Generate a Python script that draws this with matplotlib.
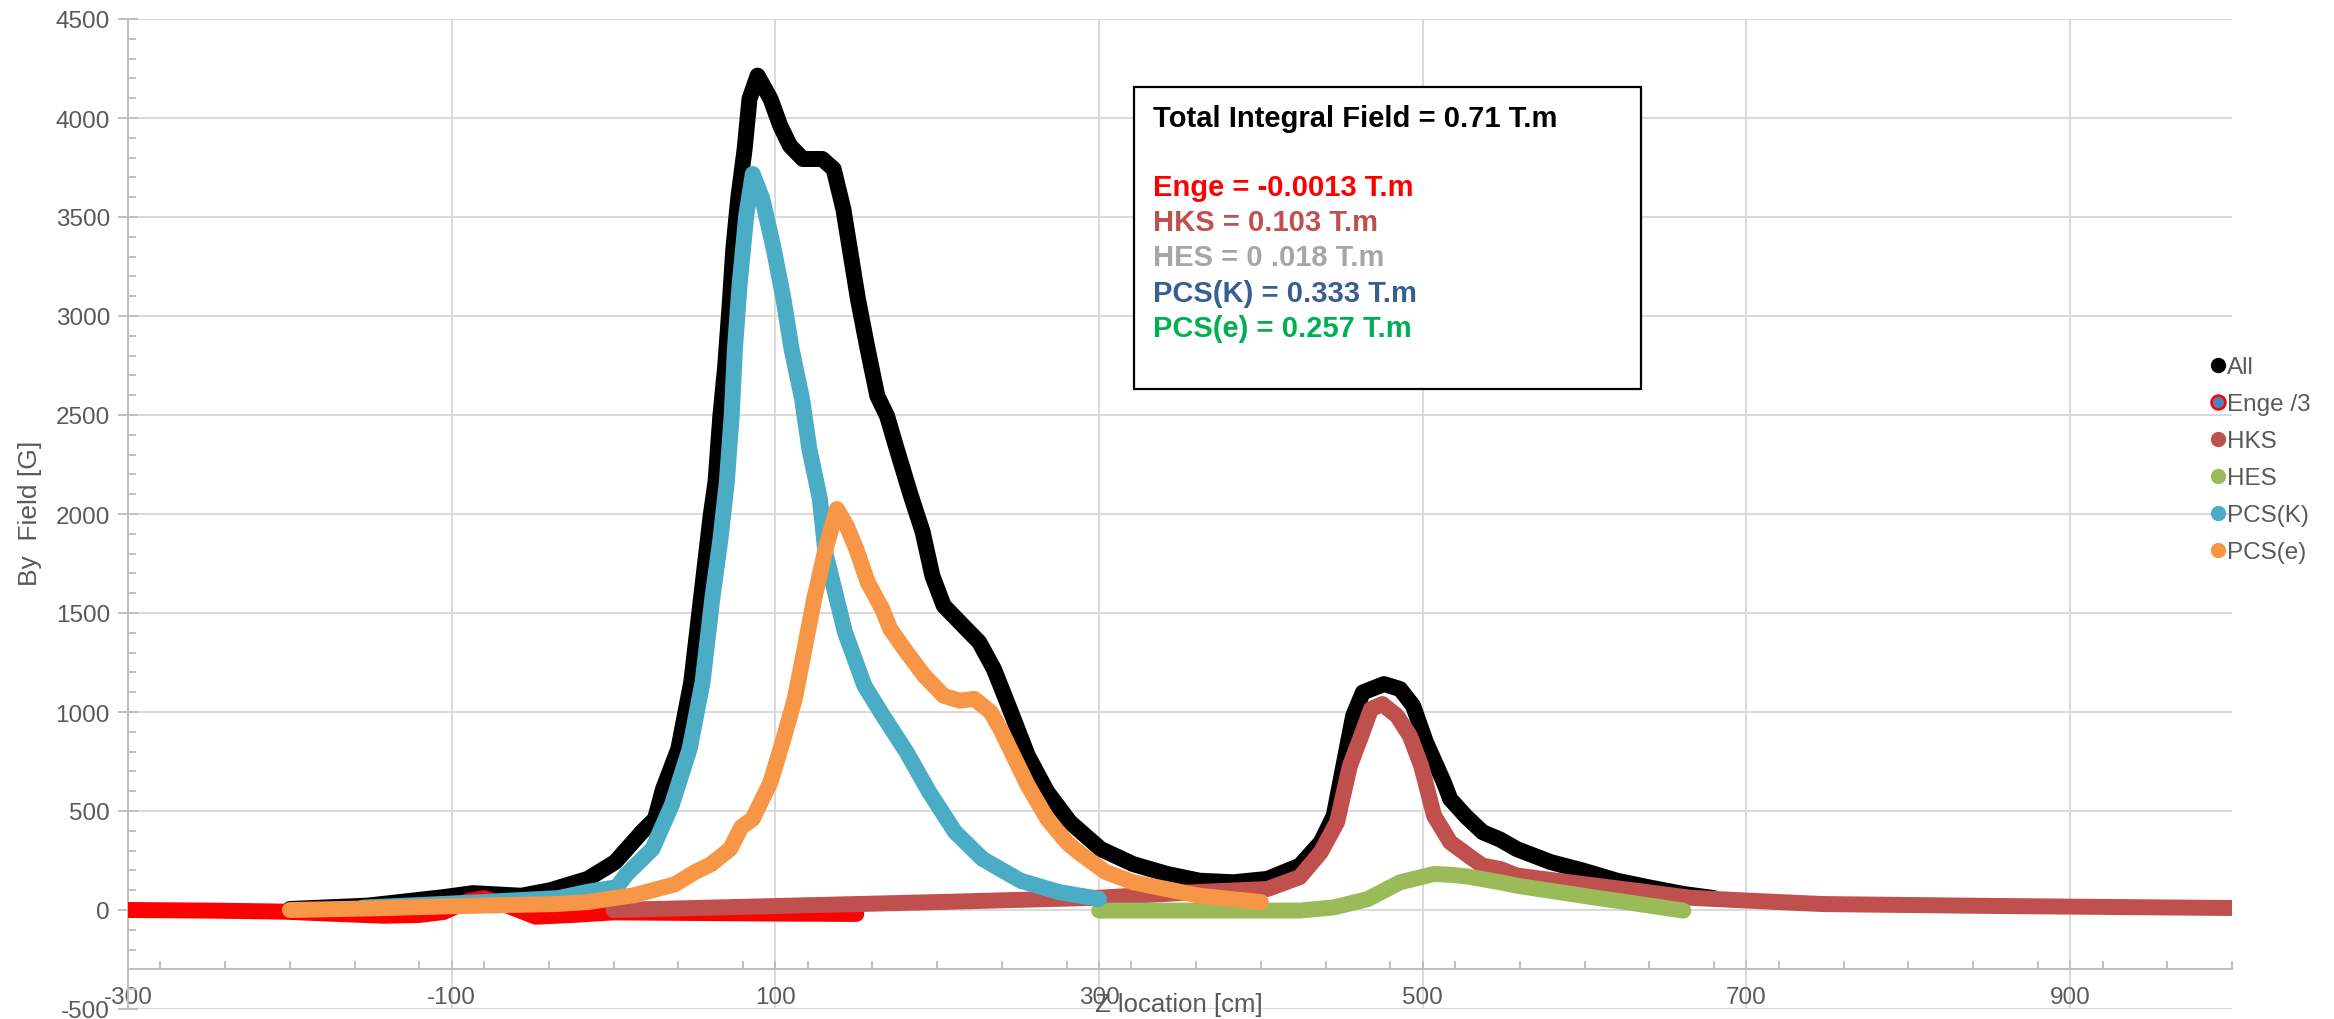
import matplotlib
matplotlib.use("Agg")
import matplotlib.pyplot as plt
from matplotlib.lines import Line2D
from matplotlib.patches import Rectangle
from matplotlib.ticker import MultipleLocator

plt.rcParams['font.family'] = ['Liberation Sans', 'DejaVu Sans']
plt.rcParams['axes.unicode_minus'] = False

# valores (z en cm, By en G)
z_all = [-200, -152, -105, -87, -57, -39, -16, 1, 17.5, 25.6, 30.6, 40, 48, 54, 60, 63, 66, 69, 72,
         74, 77, 81, 84, 89, 97, 103, 109, 117, 129, 136, 142, 146, 151, 157, 163, 169, 175, 183,
         191, 197, 204, 216, 226, 235, 244, 256, 268, 282, 301, 321, 342, 362, 383, 404, 424, 437,
         445, 451, 457, 463, 476, 486, 494, 502, 513, 517, 527, 537, 548, 558, 579, 599, 620, 640,
         661, 680]
by_all = [5, 22, 65, 85, 72, 100, 157, 242, 394, 460, 611, 813, 1150, 1571, 1991, 2162, 2495, 2747,
          3086, 3338, 3591, 3843, 4096, 4214, 4096, 3961, 3860, 3793, 3793, 3742, 3540, 3338, 3086,
          2833, 2596, 2495, 2328, 2111, 1909, 1688, 1537, 1436, 1352, 1217, 1032, 779, 596, 444, 308,
          232, 182, 148, 140, 157, 224, 342, 476, 729, 981, 1099, 1141, 1116, 1032, 847, 645, 560,
          470, 393, 355, 308, 242, 199, 148, 114, 81, 60]

z_enge = [-300, -250, -205, -170, -142, -120, -105, -90, -80, -65, -48, -25, 0, 50, 100, 150]
by_enge = [0, -3, -8, -20, -29, -25, -10, 45, 60, 20, -34, -25, -12, -15, -18, -20]

z_hks = [0, 100, 200, 300, 362, 404, 424, 437, 447, 455, 462, 468, 475, 484, 492, 499, 507, 517, 531,
         537, 548, 558, 599, 640, 665, 702, 747, 858, 1000]
by_hks = [0, 20, 40, 62, 91, 106, 166, 292, 443, 729, 880, 1015, 1040, 981, 880, 729, 476, 342, 258,
          224, 207, 174, 131, 89, 62, 47, 30, 20, 10]

z_hes = [300, 362, 424, 445, 466, 486, 507, 517, 527, 548, 558, 599, 661]
by_hes = [-3, -3, -3, 13, 55, 140, 182, 178, 170, 140, 123, 72, -3]

z_pcsk = [-155, -120, -81, -34, -16, 2, 8, 24, 36, 47, 55, 61, 66, 70, 73, 75, 78, 82, 86, 92, 99,
          105, 110, 116.5, 121, 127.5, 131, 143, 155, 166.5, 181, 195, 211, 228, 251.5, 275, 300]
by_pcsk = [12, 25, 40, 60, 92, 115, 180, 308, 530, 813, 1150, 1571, 1870, 2162, 2497, 2833, 3170, 3507,
           3717, 3591, 3338, 3086, 2833, 2581, 2328, 2076, 1800, 1403, 1133, 981, 798, 596, 394, 258,
           148, 91, 56]

z_pcse = [-200, -150, -105, -36, -16, 13, 38, 50, 60, 72, 79, 86, 97, 105, 112, 118, 124, 131, 138,
          144, 150, 157, 166, 171, 181, 192, 204, 214, 223, 233, 239, 244, 256, 268, 280, 287, 304,
          321, 362, 400]
by_pcse = [0, 8, 18, 30, 40, 75, 130, 190, 230, 308, 419, 460, 646, 864, 1066, 1318, 1571, 1823, 2025,
           1941, 1823, 1656, 1520, 1419, 1303, 1183, 1082, 1057, 1066, 1000, 914, 830, 628, 460, 342,
           293, 192, 140, 72, 40]

series = [
    ("All", z_all, by_all, "#000000"),
    ("Enge /3", z_enge, by_enge, "#FF0000"),
    ("HKS", z_hks, by_hks, "#C0504D"),
    ("HES", z_hes, by_hes, "#9BBB59"),
    ("PCS(K)", z_pcsk, by_pcsk, "#4BACC6"),
    ("PCS(e)", z_pcse, by_pcse, "#F79646"),
]

integrales = [
    ("Enge = -0.0013 T.m", "#FF0000"),
    ("HKS = 0.103 T.m", "#C0504D"),
    ("HES = 0 .018 T.m", "#A6A6A6"),
    ("PCS(K) = 0.333 T.m", "#376092"),
    ("PCS(e) = 0.257 T.m", "#00B050"),
]

W, H = 2334, 1020
fig = plt.figure(figsize=(W / 100, H / 100), dpi=100)
ax = fig.add_axes([128 / W, 1 - 1010 / H, (2232 - 128) / W, (1010 - 20) / H])

for i, (nombre, z, by, color) in enumerate(series):
    ax.plot(z, by, color=color, lw=11.5, solid_capstyle='round', solid_joinstyle='round', zorder=3 + i)

ax.set_xlim(-300, 1000)
ax.set_ylim(-500, 4500)
ax.xaxis.set_major_locator(MultipleLocator(200, offset=-300))
ax.xaxis.set_minor_locator(MultipleLocator(40))
ax.yaxis.set_major_locator(MultipleLocator(500))
ax.yaxis.set_minor_locator(MultipleLocator(100))

ax.grid(True, which='major', color='#D9D9D9', lw=1.4, zorder=0)
ax.set_axisbelow(True)
for s in ['top', 'right']:
    ax.spines[s].set_visible(False)
ax.spines['left'].set_color('#BFBFBF')
ax.spines['left'].set_linewidth(1.5)
ax.spines['bottom'].set_position(('data', -300))
ax.spines['bottom'].set_color('#BFBFBF')
ax.spines['bottom'].set_linewidth(1.5)

ax.tick_params(axis='both', which='both', colors='#BFBFBF', labelcolor='#595959', labelsize=17.5, width=1.4)
ax.tick_params(axis='y', which='major', direction='inout', length=14, pad=6)
ax.tick_params(axis='y', which='minor', direction='in', length=6)
ax.tick_params(axis='x', which='both', direction='in', length=6, pad=12)

fig.text(1179 / W, 1 - 1005 / H, "Z location [cm]", ha='center', va='center', fontsize=18.5, color='#595959')
fig.text(30 / W, 1 - 513 / H, "By  Field [G]", ha='center', va='center', rotation=90, fontsize=19,
         color='#595959')

# cuadro con las integrales
caja = Rectangle((1134 / W, 1 - 390 / H), (1641 - 1134) / W, (390 - 88) / H, transform=fig.transFigure,
                 facecolor='white', edgecolor='black', lw=1.6, zorder=2)
fig.add_artist(caja)
fig.text(1153 / W, 1 - 119 / H, "Total Integral Field = 0.71 T.m", fontsize=21, fontweight='bold',
         color='black', va='center', zorder=3)
for k, (txt, col) in enumerate(integrales):
    fig.text(1153 / W, 1 - (188 + 35.2 * k) / H, txt, fontsize=21, fontweight='bold', color=col,
             va='center', zorder=3)

handles = []
for nombre, z, by, color in series:
    if nombre == "Enge /3":
        h = Line2D([], [], ls='none', marker='o', markersize=10, markerfacecolor='#4F81BD',
                   markeredgecolor='#FF0000', markeredgewidth=1.8)
    else:
        h = Line2D([], [], ls='none', marker='o', markersize=10, color=color)
    handles.append(h)
fig.legend(handles, [s[0] for s in series], loc='upper left', bbox_to_anchor=(2211 / W, 1 - 357 / H),
           frameon=False, fontsize=17.5, labelcolor='#595959', handlelength=0.6, handletextpad=0.05,
           labelspacing=0.62, borderpad=0, borderaxespad=0)

fig.savefig("out.png", dpi=100)
